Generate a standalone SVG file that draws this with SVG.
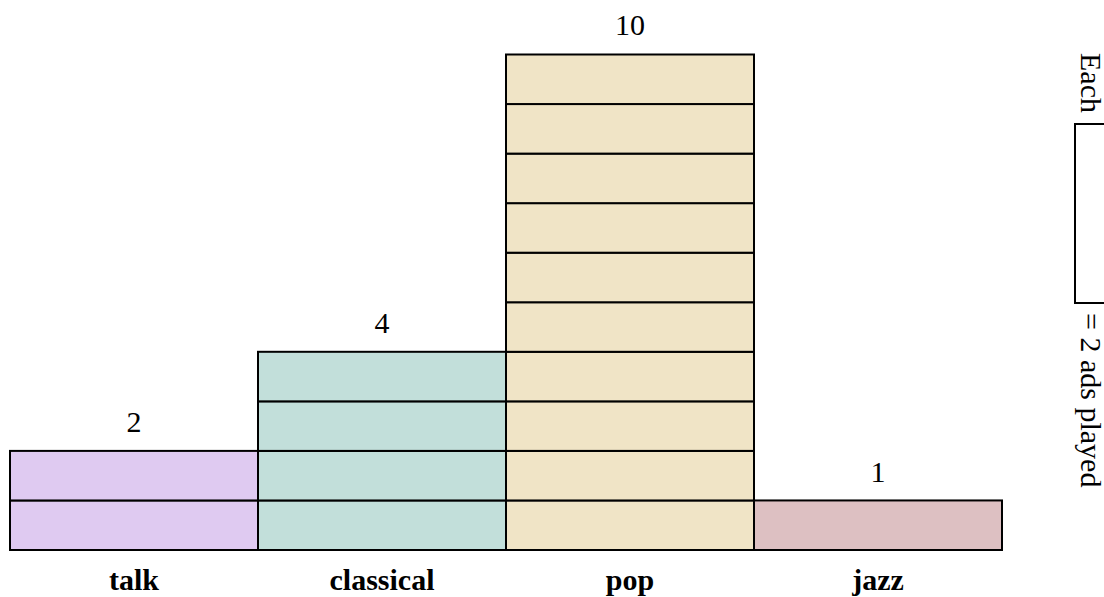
<svg xmlns="http://www.w3.org/2000/svg" width="1104" height="597" viewBox="0 0 1104 597">
<style>
.u{stroke:#000;stroke-width:2}
.talk{fill:#DFCAF1}
.classical{fill:#C2DFDA}
.pop{fill:#F0E4C6}
.jazz{fill:#DDC0C2}
.num{font-family:"Liberation Serif","Times New Roman",serif;font-size:30px;fill:#000;text-anchor:middle}
.cat{font-family:"Liberation Serif","Times New Roman",serif;font-size:30px;font-weight:bold;fill:#000;text-anchor:middle}
.leg{font-family:"Liberation Serif","Times New Roman",serif;font-size:30px;fill:#000}
</style>
<rect width="1104" height="597" fill="#fff"/>
<g id="bar-talk">
<rect class="u talk" x="10" y="500.45" width="248" height="49.55"/>
<rect class="u talk" x="10" y="450.9" width="248" height="49.55"/>
<text class="num" x="134" y="432">2</text>
<text class="cat" x="134" y="590">talk</text>
</g>
<g id="bar-classical">
<rect class="u classical" x="258" y="500.45" width="248" height="49.55"/>
<rect class="u classical" x="258" y="450.9" width="248" height="49.55"/>
<rect class="u classical" x="258" y="401.35" width="248" height="49.55"/>
<rect class="u classical" x="258" y="351.8" width="248" height="49.55"/>
<text class="num" x="382" y="333">4</text>
<text class="cat" x="382" y="590">classical</text>
</g>
<g id="bar-pop">
<rect class="u pop" x="506" y="500.45" width="248" height="49.55"/>
<rect class="u pop" x="506" y="450.9" width="248" height="49.55"/>
<rect class="u pop" x="506" y="401.35" width="248" height="49.55"/>
<rect class="u pop" x="506" y="351.8" width="248" height="49.55"/>
<rect class="u pop" x="506" y="302.25" width="248" height="49.55"/>
<rect class="u pop" x="506" y="252.7" width="248" height="49.55"/>
<rect class="u pop" x="506" y="203.15" width="248" height="49.55"/>
<rect class="u pop" x="506" y="153.6" width="248" height="49.55"/>
<rect class="u pop" x="506" y="104.05" width="248" height="49.55"/>
<rect class="u pop" x="506" y="54.5" width="248" height="49.55"/>
<text class="num" x="630" y="35">10</text>
<text class="cat" x="630" y="590">pop</text>
</g>
<g id="bar-jazz">
<rect class="u jazz" x="754" y="500.45" width="248" height="49.55"/>
<text class="num" x="878" y="482">1</text>
<text class="cat" x="878" y="590">jazz</text>
</g>
<g id="legend">
<text class="leg" transform="translate(1081,53) rotate(90)">Each</text>
<rect x="1075" y="124" width="40" height="179" fill="#fff" stroke="#000" stroke-width="2"/>
<text class="leg" transform="translate(1081,313) rotate(90)">= 2 ads played</text>
</g>
</svg>
